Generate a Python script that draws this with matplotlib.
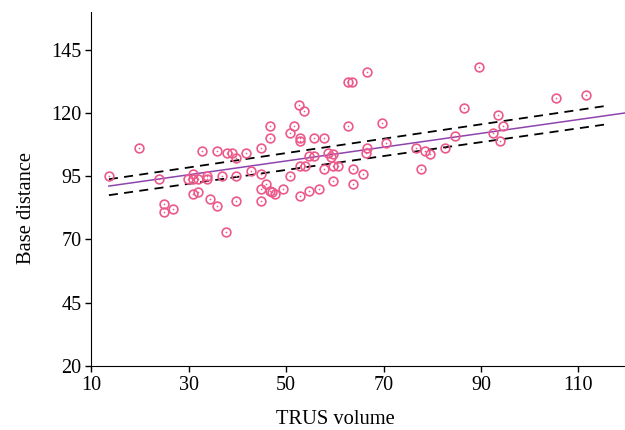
import matplotlib
matplotlib.use("Agg")
import matplotlib.pyplot as plt

# TRUS volume (x) and base distance (y)
trus_volume = [
    13.6, 19.8, 23.8, 24.9, 24.9, 26.8, 29.9, 30.9, 31.9, 30.8,
    30.8, 31.9, 32.7, 33.8, 33.8, 34.3, 35.8, 35.8, 36.8, 37.7,
    37.8, 38.8, 39.8, 39.8, 39.8, 41.7, 42.8, 44.8, 44.8, 44.8,
    44.8, 45.8, 46.7, 46.7, 46.6, 47.0, 47.8, 49.3, 50.8, 50.8,
    51.7, 52.8, 52.8, 52.8, 52.8, 52.7, 53.7, 53.8, 54.7, 54.7,
    55.7, 55.7, 56.7, 57.7, 57.7, 58.6, 59.3, 59.7, 59.7, 59.7,
    60.7, 62.6, 63.6, 62.7, 63.7, 63.7, 65.7, 66.7, 66.7, 66.4,
    69.6, 70.6, 76.7, 77.6, 78.6, 79.6, 82.6, 84.6, 86.6, 89.6,
    92.5, 93.6, 94.5, 94.0, 105.5, 111.5,
]
base_distance = [
    95.0, 106.1, 93.9, 84.1, 80.9, 82.0, 93.9, 93.9, 93.9, 96.0,
    88.1, 88.8, 105.0, 94.0, 95.0, 85.9, 105.0, 83.2, 95.0, 73.0,
    104.0, 104.0, 102.0, 95.0, 85.1, 104.0, 96.9, 106.0, 96.0, 89.9,
    85.1, 92.1, 115.0, 110.0, 89.2, 88.8, 87.9, 89.9, 112.1, 95.0,
    115.0, 110.1, 108.9, 99.1, 87.1, 123.0, 120.9, 99.1, 103.1, 89.0,
    110.1, 103.1, 90.0, 110.1, 98.0, 104.0, 102.6, 103.8, 99.1, 93.0,
    99.1, 132.1, 132.1, 115.0, 98.0, 92.1, 96.0, 136.1, 106.1, 104.0,
    116.0, 108.1, 106.1, 98.0, 105.0, 103.9, 106.1, 111.0, 122.1, 138.0,
    112.0, 119.1, 115.0, 109.1, 126.0, 127.1,
]

# fitted line and the dashed band
fit_x = [13.6, 120.0]
fit_y = [91.1, 120.1]
band_x = [13.6, 115.4]
band_upper = [93.8, 122.7]
band_lower = [87.5, 115.4]

x_ticks = [10, 30, 50, 70, 90, 110]
y_ticks = [20, 45, 70, 95, 120, 145]

plt.rcParams["font.family"] = ["Liberation Serif", "DejaVu Serif"]

fig = plt.figure(figsize=(6.25, 4.3), dpi=100)
ax = fig.add_axes([0.1462, 0.1488, 0.857, 0.824])

pink = "#ec5a8a"
ax.plot(trus_volume, base_distance, linestyle="none", marker="o", markersize=6.3,
        markerfacecolor="none", markeredgecolor=pink, markeredgewidth=1.2, zorder=3)
ax.plot(trus_volume, base_distance, linestyle="none", marker="o", markersize=1.2,
        markerfacecolor=pink, markeredgewidth=0, zorder=4)

ax.plot(fit_x, fit_y, color="#8e44ad", linewidth=1.1, zorder=2)
ax.plot(band_x, band_upper, color="black", linewidth=1.3, dashes=(5, 3.5), zorder=2)
ax.plot(band_x, band_lower, color="black", linewidth=1.3, dashes=(5, 3.5), zorder=2)

ax.set_xlim(10, 120)
ax.set_ylim(20, 160)
ax.set_xticks(x_ticks)
ax.set_yticks(y_ticks)
ax.tick_params(labelsize=14.5, length=4, width=1, direction="out", pad=3)

ax.spines["top"].set_visible(False)
ax.spines["right"].set_visible(False)

ax.set_xlabel("TRUS volume", fontsize=14.8)
ax.set_ylabel("Base distance", fontsize=14.8)
# labels sit a little off the axes centre in the reference
ax.xaxis.set_label_coords(0.455, -0.125)
ax.yaxis.set_label_coords(-0.104, 0.447)

fig.savefig("out.png", dpi=100)
plt.close(fig)
